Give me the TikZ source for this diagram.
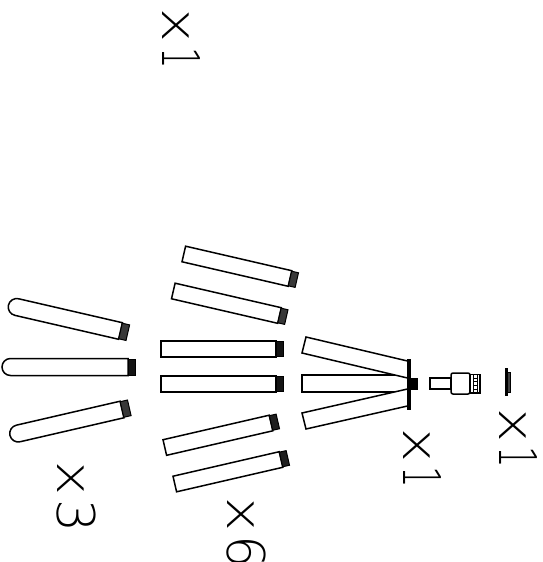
\documentclass[tikz,border=0pt]{standalone}
\usepackage{graphicx}
\usepackage{fontspec}
\newfontfamily\thinfont{DejaVu Sans ExtraLight}
\newcommand{\CountText}[2][1]{\thinfont\scalebox{1.25}[1.06]{\fontsize{46}{46}\selectfont x}\kern 4pt\scalebox{#1}[1]{\fontsize{52}{52}\selectfont #2}}
\tikzset{
  every path/.style={line width=1.5pt,line join=miter},
  tube/.style={draw=black,fill=white},
  threadcap/.style={draw=black,fill=black!78,line width=1pt},
  countlabel/.style={rotate=-90,anchor=base west,inner sep=0pt,outer sep=0pt},
  solid part/.style={draw=black,fill=black,line width=.8pt}
}
% flat tube: #1 cap fill, #2 right-end centre, #3 angle, #4 length
\newcommand{\FlatTube}[4][black!78]{\begin{scope}[shift={#2},rotate=#3]
  \draw[tube] (-#4,-8) rectangle (0,8);
  \draw[threadcap,fill=#1] (0,-7.5) rectangle (7,7.5);
\end{scope}}
% round-ended tube
\newcommand{\RoundTube}[4][black!78]{\begin{scope}[shift={#2},rotate=#3]
  \draw[tube] (0,-8.5) -- (-#4+8.5,-8.5) arc[start angle=270,delta angle=-180,radius=8.5] -- (0,8.5) -- cycle;
  \draw[threadcap,fill=#1] (0,-8) rectangle (7.5,8);
\end{scope}}
\begin{document}
\begin{tikzpicture}[x=1pt,y=-1pt]
\useasboundingbox (0,0) rectangle (542,562);
% left group
\RoundTube{(120.5,331)}{-13}{115}
\RoundTube[black!92]{(128,367)}{0}{126}
\RoundTube{(122,409.5)}{13}{115}
% middle group
\FlatTube{(290,278.5)}{-13}{109}
\FlatTube{(279.5,315.5)}{-13}{109}
\FlatTube[black!92]{(276,349)}{0}{115}
\FlatTube[black!92]{(276,384)}{0}{115}
\FlatTube[black!88]{(271,423)}{13}{109}
\FlatTube[black!88]{(281,459.5)}{13}{109}
% fan
\fill[white] (302,375) rectangle (398,392);
\draw (398,375) -- (302,375) -- (302,392) -- (398,392);
\draw[tube] (407.5,378) -- (302,353) -- (306,337) -- (407.5,361);
\draw[tube] (407.5,389) -- (302,413) -- (306,429) -- (407.5,406);
\draw[solid part] (407,359) rectangle (410,409);
\draw[solid part] (410,378) rectangle (417,389);
% connector
\draw[tube] (430,378) rectangle (451,389);
\draw[tube,rounded corners=2pt] (451,373) rectangle (470,394);
\draw[tube] (470,374.5) rectangle (480,393);
\draw[line width=1pt] (473,375) -- (473,393) (477,375) -- (477,393)
  (473,378) -- (477,378) (473,381.5) -- (477,381.5) (473,385.5) -- (477,385.5) (473,389.5) -- (477,389.5);
% disc
\draw[solid part] (505,368) rectangle (507.5,395);
\draw[draw=black,fill=black!75,line width=.8pt] (507.5,372) rectangle (510.5,392);
% labels
\node[countlabel] (q1) at (162,9) {\CountText[.65]{1}};
\node[countlabel] (q2) at (403,428) {\CountText[.65]{1}};
\node[countlabel] (q3) at (499,408) {\CountText[.65]{1}};
\node[countlabel] (q4) at (57,461) {\CountText{3}};
\node[countlabel] (q5) at (227,497) {\CountText{6}};
\end{tikzpicture}
\end{document}
